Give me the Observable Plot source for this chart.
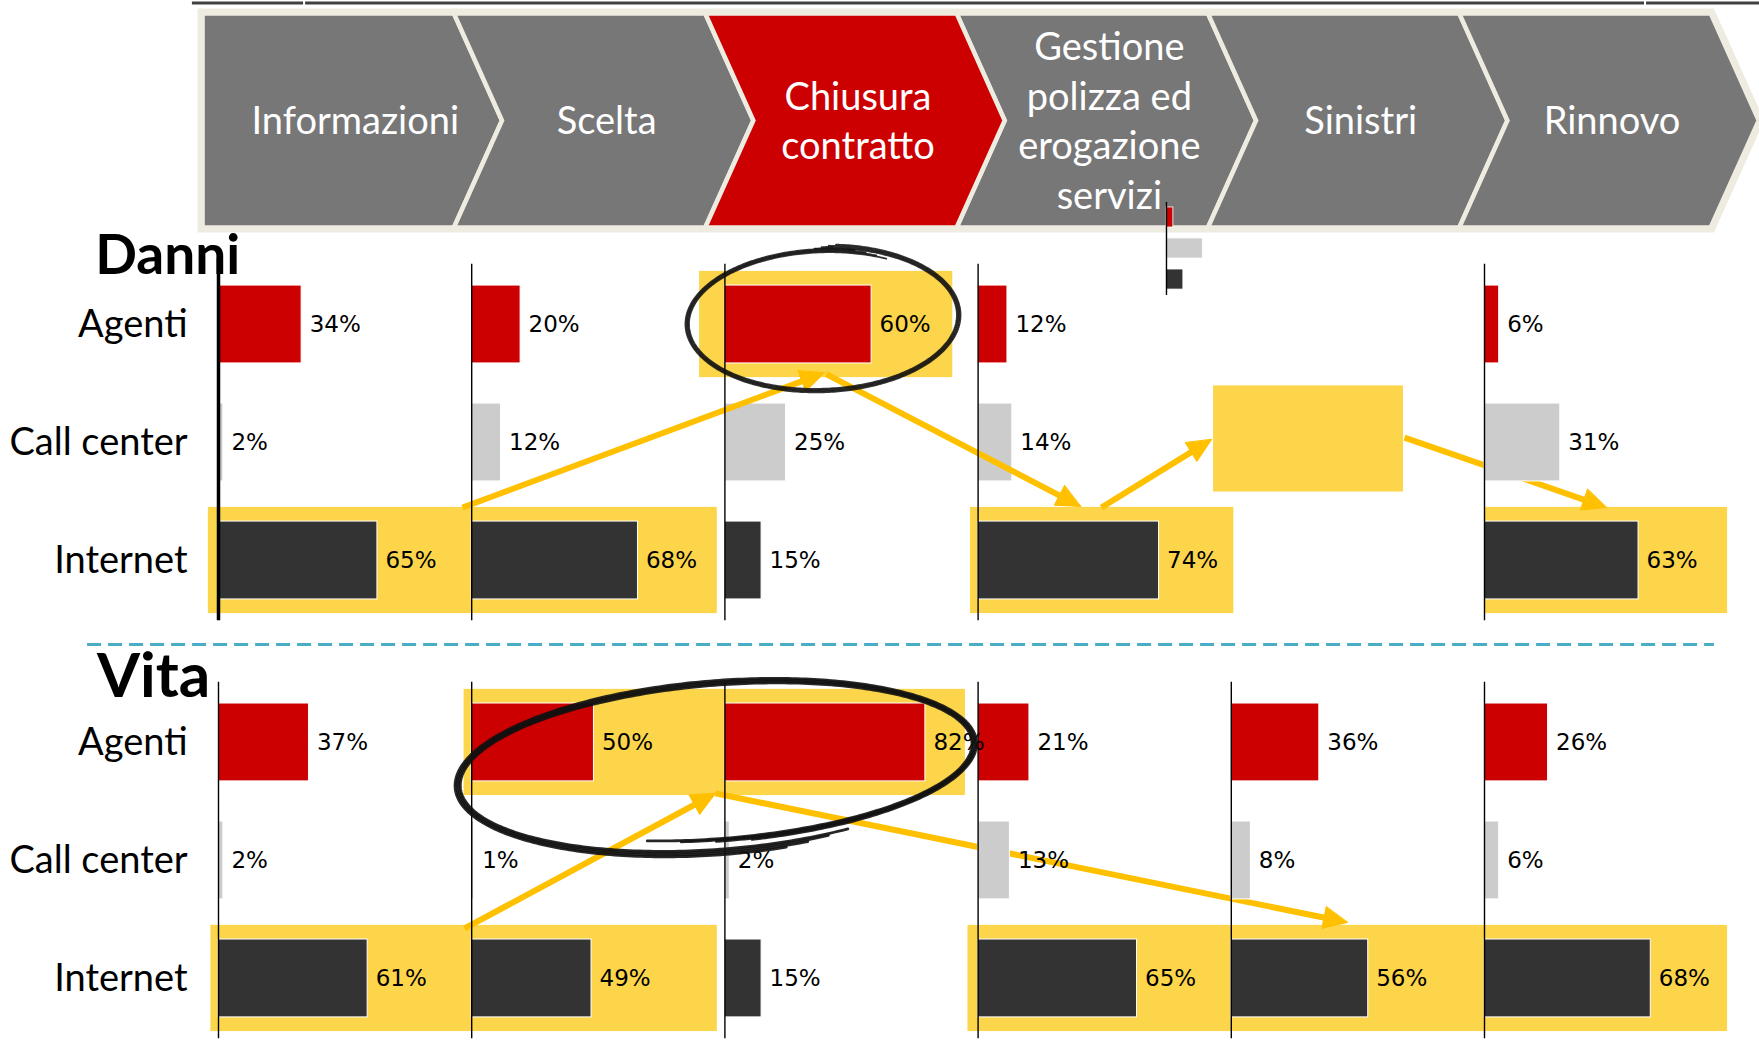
<!DOCTYPE html>
<html>
<head>
<meta charset="utf-8">
<script src="https://cdn.jsdelivr.net/npm/d3@7"></script>
<script src="https://cdn.jsdelivr.net/npm/@observablehq/plot@0.6"></script>
<style>
  body { margin: 0; background: #fff; }
  #chart svg { display: block; }
</style>
</head>
<body>
<div id="chart"></div>
<script>
// ---------------- DATA ----------------
const stages = ["Informazioni", "Scelta", "Chiusura\ncontratto", "Gestione\npolizza ed\nerogazione\nservizi", "Sinistri", "Rinnovo"];
const highlightedStage = "Chiusura\ncontratto";
const channels = ["Agenti", "Call center", "Internet"];
const sections = ["Danni", "Vita"];

const danniAgenti     = [34, 20, 60, 12, null, 6];
const danniCallCenter = [2, 12, 25, 14, null, 31];
const danniInternet   = [65, 68, 15, 74, null, 63];

const vitaAgenti      = [37, 50, 82, 21, 36, 26];
const vitaCallCenter  = [2, 1, 2, 13, 8, 6];
const vitaInternet    = [61, 49, 15, 65, 56, 68];

// small unlabeled stray copy of the Danni "Sinistri" bars (estimated)
const danniSinistriInset = [11, 58, 27];

// ---------------- LAYOUT / STYLE ----------------
const W = 1759, H = 1041;
const COL = 253.2, ROW = 118;     // px per column unit / row unit
const X0 = 218, Y0 = 324;         // px of column 0 origin / first Danni row
const PCT = 2.445 / COL;          // column units per percentage point
const VITA = 3.542;               // row offset of the Vita block
const channelColors = ["#CC0000", "#CCCCCC", "#333333"];
const YELLOW = "#FCD54B", ARROW = "#FFC000", CREAM = "#EEECE1", BANNER_GRAY = "#777777", BANNER_RED = "#CC0000";

// annotations (column / row units, relative to each block)
const danniHighlights = [
  {row: 0, from: 1.90, to: 2.90},
  {row: 2, from: -0.04, to: 1.97},
  {row: 0.97, from: 3.93, to: 4.68},
  {row: 2, from: 2.97, to: 4.01},
  {row: 2, from: 5.00, to: 5.96}
];
const vitaHighlights = [
  {row: 0, from: 0.97, to: 2.95},
  {row: 2, from: -0.03, to: 1.97},
  {row: 2, from: 2.96, to: 5.96}
];
const danniArrows = [
  {x1: 0.964, y1: 1.551, x2: 2.393, y2: 0.41, front: true},
  {x1: 2.400, y1: 0.42,  x2: 3.405, y2: 1.542, front: true},
  {x1: 3.487, y1: 1.551, x2: 3.922, y2: 0.975, front: false},
  {x1: 4.684, y1: 0.958, x2: 5.482, y2: 1.551, front: false}
];
const vitaArrows = [
  {x1: 0.972, y1: 1.576, x2: 1.963, y2: 0.432, front: false},
  {x1: 1.963, y1: 0.432, x2: 4.459, y2: 1.525, front: false}
];

// ---------------- BUILD RECORDS ----------------
function sectionRecords(name, offset, series) {
  const out = [];
  series.forEach((vals, r) => vals.forEach((v, c) => {
    if (v != null) out.push({section: name, stage: stages[c], col: c, channel: channels[r], row: r + offset, value: v, color: channelColors[r]});
  }));
  return out;
}
const bars = [
  ...sectionRecords("Danni", 0, [danniAgenti, danniCallCenter, danniInternet]),
  ...sectionRecords("Vita", VITA, [vitaAgenti, vitaCallCenter, vitaInternet])
];

const highlights = [
  ...danniHighlights.map(d => ({...d, y: d.row})),
  ...vitaHighlights.map(d => ({...d, y: d.row + VITA}))
];

// column axis lines (Danni has no bars in "Sinistri")
const axisLines = [];
stages.forEach((s, c) => {
  if (danniAgenti[c] != null) axisLines.push({x: c, y1: c === 0 ? -0.56 : -0.51, y2: 2.51, w: c === 0 ? 3.5 : 1.4});
  axisLines.push({x: c, y1: VITA - 0.51, y2: VITA + 2.51, w: 1.4});
});

// banner chevrons
const BAN = {left: -0.063, width: 0.9927, tip: 0.19, top: -2.636, mid: -1.729, bottom: -0.822};
const chevrons = stages.flatMap((s, i) => {
  const L = BAN.left + i * BAN.width, R = L + BAN.width;
  const pts = [[L, BAN.top], [R, BAN.top], [R + BAN.tip, BAN.mid], [R, BAN.bottom], [L, BAN.bottom]];
  if (i > 0) pts.push([L + BAN.tip, BAN.mid]);
  return pts.map(([x, y]) => ({stage: s, x, y}));
});
const Rend = BAN.left + 6 * BAN.width;
const bannerOutline = [[BAN.left, BAN.top], [Rend, BAN.top], [Rend + BAN.tip, BAN.mid], [Rend, BAN.bottom], [BAN.left, BAN.bottom]].map(([x, y]) => ({x, y}));
const bannerLabels = stages.map((s, i) => ({text: s, x: BAN.left + i * BAN.width + BAN.width / 2 + BAN.tip / 2}));

// inset mini bars
const INSET = {x: 3.744, y: -0.907, step: 0.263, half: 0.085, scale: 0.256};
const insetBars = danniSinistriInset.map((v, i) => ({x1: INSET.x, x2: INSET.x + v * PCT * INSET.scale, y: INSET.y + i * INSET.step, color: channelColors[i]}));

// arrows
function arrowGeom(list, offset, prefix) {
  const lines = [], heads = [];
  list.forEach((a, i) => {
    const dx = (a.x2 - a.x1) * COL, dy = (a.y2 - a.y1) * ROW;
    const L = Math.hypot(dx, dy), ux = dx / L, uy = dy / L;
    const HL = 24, HW = 11, id = prefix + i, front = a.front;
    const ty = a.y2 + offset;
    lines.push({id, front, x: a.x1, y: a.y1 + offset}, {id, front, x: a.x2 - ux * HL * 0.6 / COL, y: ty - uy * HL * 0.6 / ROW});
    const bx = -ux * HL, by = -uy * HL;
    heads.push(
      {id, front, x: a.x2, y: ty},
      {id, front, x: a.x2 + (bx - uy * HW) / COL, y: ty + (by + ux * HW) / ROW},
      {id, front, x: a.x2 + (bx + uy * HW) / COL, y: ty + (by - ux * HW) / ROW}
    );
  });
  return {lines, heads};
}
const ad = arrowGeom(danniArrows, 0, "d"), av = arrowGeom(vitaArrows, VITA, "v");
const arrowLines = [...ad.lines, ...av.lines];
const arrowHeads = [...ad.heads, ...av.heads];
const arrowMarks = front => [
  Plot.line(arrowLines.filter(d => d.front === front), {x: "x", y: "y", z: "id", stroke: ARROW, strokeWidth: 6, strokeLinecap: "butt"}),
  Plot.line(arrowHeads.filter(d => d.front === front), {x: "x", y: "y", z: "id", curve: "linear-closed", fill: ARROW, stroke: ARROW, strokeWidth: 1})
];

// hand-drawn ellipses
function ellipsePath(id, c, rx, ry, rot, t0, t1, shrink, jit) {
  const n = 360, a = rot * Math.PI / 180, out = [];
  for (let k = 0; k <= n; k++) {
    const f = k / n, t = (t0 + (t1 - t0) * f) * Math.PI / 180;
    const ex = (rx + jit) * (1 - shrink * 0.3 * f) * Math.cos(t);
    const ey = (ry + jit) * (1 - shrink * f) * Math.sin(t);
    const X = ex * Math.cos(a) - ey * Math.sin(a), Y = ex * Math.sin(a) + ey * Math.cos(a);
    out.push({id, x: c.x + X / COL, y: c.y + Y / ROW});
  }
  return out;
}
const ellipses = [
  ...[-1.8, -0.6, 0.6, 1.8].flatMap((j, k) => ellipsePath("D" + k, {x: 2.385, y: -0.042}, 137, 73, -2.5, -92 + k * 3, 300 - k * 5, 0.06, j)),
  ...[-2.6, -0.9, 0.9, 2.6].flatMap((j, k) => ellipsePath("V" + k, {x: 1.975, y: VITA + 0.187}, 265, 88, -5, 62 + k * 5, 468 - k * 8, 0.14, j))
];

const rowLabels = [
  ...channels.map((c, i) => ({text: c, y: i})),
  ...channels.map((c, i) => ({text: c, y: i + VITA}))
];

// ---------------- PLOT ----------------
const chart = Plot.plot({
  width: W, height: H, margin: 0,
  x: {domain: [-X0 / COL, (W - X0) / COL], range: [0, W], axis: null},
  y: {domain: [-Y0 / ROW, (H - Y0) / ROW], range: [0, H], axis: null},
  color: {type: "identity"},
  style: {background: "white"},
  marks: [
    // top rule and separator
    Plot.ruleY([[-0.103, 0.336], [0.344, 5.632], [5.640, 6.09]], {y: -2.7246, x1: d => d[0], x2: d => d[1], stroke: "#404040", strokeWidth: 3}),
    Plot.ruleY([2.712], {x1: -0.517, x2: 5.908, stroke: "#4BACC6", strokeWidth: 3, strokeDasharray: "14,7"}),

    // banner
    Plot.line(bannerOutline, {x: "x", y: "y", curve: "linear-closed", fill: CREAM, stroke: CREAM, strokeWidth: 10, strokeLinejoin: "miter", strokeMiterlimit: 10}),
    Plot.line(chevrons.filter(d => d.stage !== highlightedStage), {x: "x", y: "y", z: "stage", curve: "linear-closed", fill: BANNER_GRAY, stroke: CREAM, strokeWidth: 4.5, strokeLinejoin: "miter", strokeMiterlimit: 10}),
    Plot.line(chevrons.filter(d => d.stage === highlightedStage), {x: "x", y: "y", z: "stage", curve: "linear-closed", fill: BANNER_RED, stroke: CREAM, strokeWidth: 4.5, strokeLinejoin: "miter", strokeMiterlimit: 10}),
    Plot.text(bannerLabels, {x: "x", y: BAN.mid, text: "text", dx: 3, dy: -2, fill: "white", fontSize: 38, fontFamily: "Lato", lineHeight: 1.31}),

    // highlights
    Plot.rect(highlights, {x1: "from", x2: "to", y1: d => d.y - 0.45, y2: d => d.y + 0.45, fill: YELLOW}),

    // arrows behind bars
    ...arrowMarks(false),

    // bars
    Plot.rect(bars, {x1: "col", x2: d => d.col + d.value * PCT, y1: d => d.row - 0.33, y2: d => d.row + 0.33, fill: "color", stroke: "white", strokeWidth: 1}),

    // arrows over bars
    ...arrowMarks(true),

    // column axis lines
    Plot.ruleX(axisLines, {x: "x", y1: "y1", y2: "y2", stroke: "black", strokeWidth: "w"}),

    // stray inset
    Plot.rect(insetBars, {x1: "x1", x2: "x2", y1: d => d.y - INSET.half, y2: d => d.y + INSET.half, fill: "color", stroke: "white", strokeWidth: 0.8}),
    Plot.ruleX([INSET.x], {y1: -1.034, y2: -0.246, stroke: "black", strokeWidth: 1.4}),

    // value labels
    Plot.text(bars, {x: d => d.col + d.value * PCT, y: "row", text: d => d.value + "%", textAnchor: "start", dx: 8, fontSize: 23, fontFamily: "DejaVu Sans", fill: "black"}),

    // row labels
    Plot.text(rowLabels, {x: -0.122, y: "y", text: "text", textAnchor: "end", fontSize: 38, fontFamily: "Lato", fill: "black"}),

    // section titles
    Plot.text([sections[0]], {x: -0.487, y: -0.432, text: d => d, textAnchor: "start", lineAnchor: "bottom", fontSize: 55, fontWeight: "bold", fontFamily: "Lato", fill: "black"}),
    Plot.text([sections[1]], {x: -0.48, y: VITA - 0.381, text: d => d, textAnchor: "start", lineAnchor: "bottom", fontSize: 62, fontWeight: "bold", fontFamily: "Lato", fill: "black"}),

    // hand-drawn ellipses
    Plot.line(ellipses.filter(d => d.id[0] === "D"), {x: "x", y: "y", z: "id", stroke: "#111", strokeWidth: 1.8, strokeOpacity: 0.85}),
    Plot.line(ellipses.filter(d => d.id[0] === "V"), {x: "x", y: "y", z: "id", stroke: "#111", strokeWidth: 2.8, strokeOpacity: 0.9})
  ]
});
document.getElementById("chart").appendChild(chart);
</script>
</body>
</html>
